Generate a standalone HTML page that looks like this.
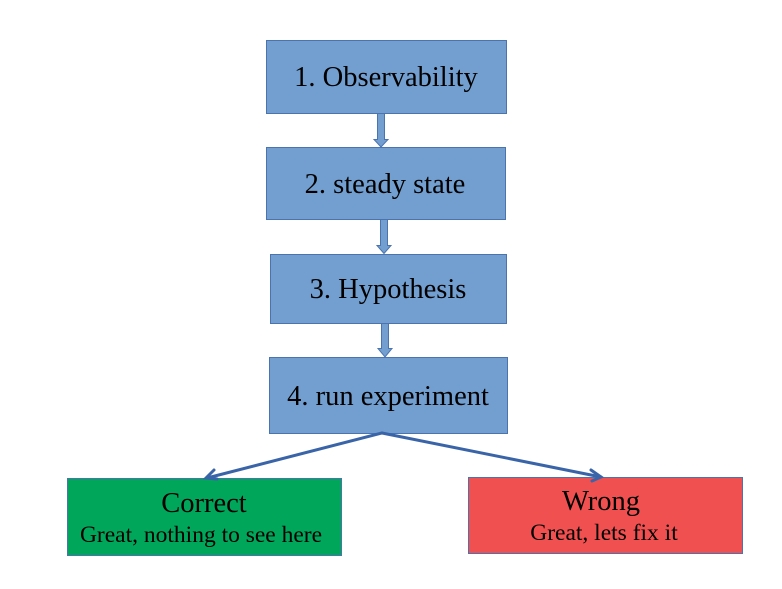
<!DOCTYPE html>
<html><head><meta charset="utf-8"><style>
html,body{margin:0;padding:0;background:#fff;width:782px;height:589px;overflow:hidden}
svg{display:block}
text{font-family:"Liberation Serif",serif;fill:#000}
</style></head><body>
<svg width="782" height="589" viewBox="0 0 782 589" xmlns="http://www.w3.org/2000/svg">
<g fill="#729fcf" stroke="#4a73b0" stroke-width="1">
<rect x="266.5" y="40.5" width="240" height="73"/>
<rect x="266.5" y="147.5" width="239" height="72"/>
<rect x="270.5" y="254.5" width="236" height="69"/>
<rect x="269.5" y="357.5" width="238" height="76"/>
<path d="M377.5 113.5 h7 v26 h3.5 l-7 7.5 l-7 -7.5 h3.5 z"/>
<path d="M380.5 219.5 h7 v26 h3.5 l-7 8 l-7 -8 h3.5 z"/>
<path d="M381.5 323.5 h7 v25 h3.5 l-7 8.5 l-7 -8.5 h3.5 z"/>
</g>
<rect x="67.5" y="478.5" width="274" height="77" fill="#00a65a" stroke="#4a73b0"/>
<rect x="468.5" y="477.5" width="274" height="76" fill="#f0504f" stroke="#4a73b0"/>
<g stroke="#3a64a8" stroke-width="3" fill="none" stroke-linecap="round">
<path d="M382 433 L207 478"/>
<path d="M214 470 L206 478 L217 479"/>
<path d="M382 433 L601 477"/>
<path d="M591 470 L601 477 L592 481"/>
</g>
<g text-anchor="middle" font-size="28.5">
<text x="386" y="86">1. Observability</text>
<text x="385" y="193">2. steady state</text>
<text x="388" y="298">3. Hypothesis</text>
<text x="388" y="405">4. run experiment</text>
<text x="204" y="512">Correct</text>
<text x="601" y="510">Wrong</text>
</g>
<g text-anchor="middle" font-size="23.5">
<text x="201" y="542">Great, nothing to see here</text>
<text x="604" y="540">Great, lets fix it</text>
</g>
</svg>
</body></html>
